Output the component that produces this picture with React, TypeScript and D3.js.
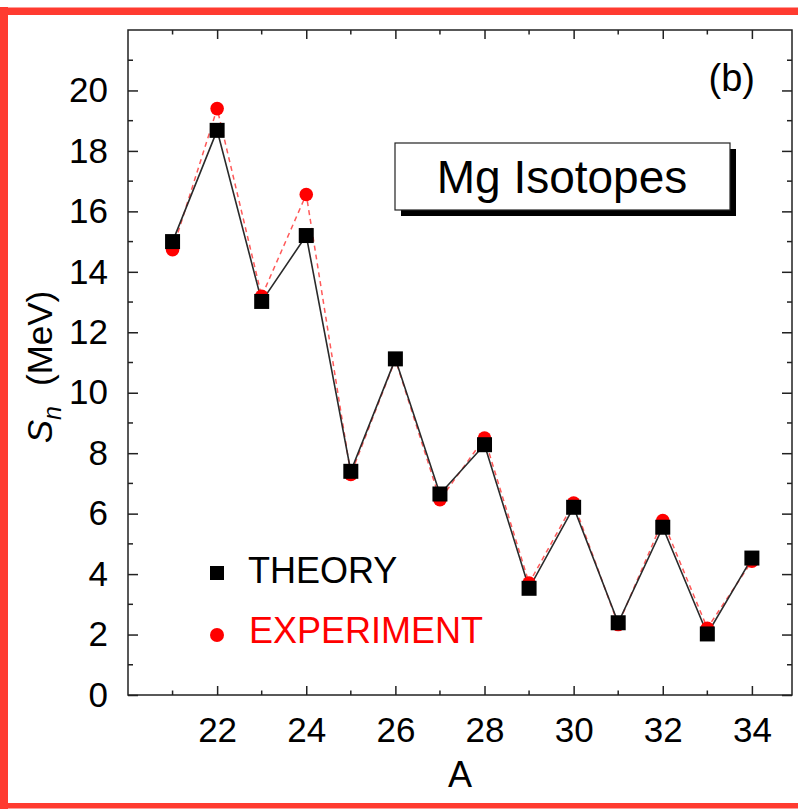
import React, { useEffect, useRef } from 'react'
import * as d3 from 'd3'

// mass numbers of the Mg isotopes
const massNumbers = [21, 22, 23, 24, 25, 26, 27, 28, 29, 30, 31, 32, 33, 34]
// neutron separation energies, MeV
const theorySn = [15.0, 18.68, 13.02, 15.2, 7.4, 11.12, 6.65, 8.28, 3.53, 6.21, 2.39, 5.55, 2.02, 4.53]
const experimentSn = [14.73, 19.4, 13.19, 16.56, 7.3, 11.1, 6.46, 8.5, 3.7, 6.35, 2.33, 5.77, 2.21, 4.43]

const xMajorTicks = [22, 24, 26, 28, 30, 32, 34]
const xMinorTicks = [21, 23, 25, 27, 29, 31, 33]
const yMajorTicks = [0, 2, 4, 6, 8, 10, 12, 14, 16, 18, 20]
const yMinorTicks = [1, 3, 5, 7, 9, 11, 13, 15, 17, 19, 21]

const FONT = '"Liberation Sans", Arial, Helvetica, sans-serif'

const App = () => {
  const svgRef = useRef<SVGSVGElement>(null)
  const width = 798
  const height = 809

  useEffect(() => {
    const svg = d3.select(svgRef.current)
    svg.selectAll('*').remove()

    const left = 128, right = 792, top = 30, bottom = 695

    const x = d3.scaleLinear().domain([20, 34.9]).range([left, right])
    const y = d3.scaleLinear().domain([0, 22]).range([bottom, top])

    svg.append('rect').attr('width', width).attr('height', height).attr('fill', '#fff')

    // red frame (right side is cut off)
    const red = '#ff3b30'
    svg.append('line').attr('x1', 4).attr('x2', 4).attr('y1', 7).attr('y2', 809)
      .attr('stroke', red).attr('stroke-width', 8)
    svg.append('line').attr('x1', 0).attr('x2', width).attr('y1', 11.3).attr('y2', 11.3)
      .attr('stroke', red).attr('stroke-width', 7.5)
    svg.append('line').attr('x1', 0).attr('x2', width).attr('y1', 805.7).attr('y2', 805.7)
      .attr('stroke', red).attr('stroke-width', 5.5)

    const axisColor = '#222'

    // bottom axis with labels
    const gx = svg.append('g').attr('transform', `translate(0,${bottom})`)
      .call(d3.axisBottom(x).tickValues(xMajorTicks).tickSize(-9).tickSizeOuter(0).tickPadding(22)
        .tickFormat(d3.format('d')))
    gx.select('.domain').remove()
    gx.selectAll('text').attr('font-size', 35).attr('font-family', FONT).attr('fill', '#000')

    // left axis with labels
    const gy = svg.append('g').attr('transform', `translate(${left},0)`)
      .call(d3.axisLeft(y).tickValues(yMajorTicks).tickSize(-10).tickSizeOuter(0).tickPadding(20)
        .tickFormat(d3.format('d')))
    gy.select('.domain').remove()
    gy.selectAll('text').attr('font-size', 35).attr('font-family', FONT).attr('fill', '#000')

    // top and right axes, ticks only
    const gt = svg.append('g').attr('transform', `translate(0,${top})`)
      .call(d3.axisTop(x).tickValues(xMajorTicks).tickSize(-9).tickSizeOuter(0).tickFormat(() => ''))
    gt.select('.domain').remove()
    const gr = svg.append('g').attr('transform', `translate(${right},0)`)
      .call(d3.axisRight(y).tickValues(yMajorTicks).tickSize(-10).tickSizeOuter(0).tickFormat(() => ''))
    gr.select('.domain').remove()

    svg.selectAll('.tick line').attr('stroke', axisColor).attr('stroke-width', 1.5)

    // minor ticks
    const minor = svg.append('g').attr('stroke', axisColor).attr('stroke-width', 1.5)
    minor.selectAll('.mxb').data(xMinorTicks).enter().append('line')
      .attr('x1', d => x(d)).attr('x2', d => x(d)).attr('y1', bottom).attr('y2', bottom - 4.5)
    minor.selectAll('.mxt').data(xMinorTicks).enter().append('line')
      .attr('x1', d => x(d)).attr('x2', d => x(d)).attr('y1', top).attr('y2', top + 4.5)
    minor.selectAll('.myl').data(yMinorTicks).enter().append('line')
      .attr('y1', d => y(d)).attr('y2', d => y(d)).attr('x1', left).attr('x2', left + 5)
    minor.selectAll('.myr').data(yMinorTicks).enter().append('line')
      .attr('y1', d => y(d)).attr('y2', d => y(d)).attr('x1', right).attr('x2', right - 5)

    // frame
    svg.append('rect').attr('x', left).attr('y', top)
      .attr('width', right - left).attr('height', bottom - top)
      .attr('fill', 'none').attr('stroke', axisColor).attr('stroke-width', 1.5)

    // axis titles
    svg.append('text').attr('x', (left + right) / 2).attr('y', 787)
      .attr('text-anchor', 'middle').attr('font-size', 36).attr('font-family', FONT)
      .text('A')

    const yt = svg.append('text')
      .attr('transform', `translate(52,367) rotate(-90)`)
      .attr('text-anchor', 'middle').attr('font-size', 35).attr('font-family', FONT)
    yt.append('tspan').attr('font-style', 'italic').text('S')
    yt.append('tspan').attr('font-style', 'italic').attr('font-size', 25).attr('dy', 9).text('n')
    yt.append('tspan').attr('dy', -9).attr('dx', 20).text('(MeV)')

    const expData = massNumbers.map((a, i) => ({ a, v: experimentSn[i] }))
    const thData = massNumbers.map((a, i) => ({ a, v: theorySn[i] }))

    const line = d3.line<{ a: number, v: number }>()
      .x(d => x(d.a))
      .y(d => y(d.v))

    svg.append('path').datum(expData)
      .attr('fill', 'none').attr('stroke', '#ff5a5a').attr('stroke-width', 1.5)
      .attr('stroke-dasharray', '5,4').attr('d', line)

    svg.append('path').datum(thData)
      .attr('fill', 'none').attr('stroke', '#2a2a2a').attr('stroke-width', 1.6).attr('d', line)

    svg.selectAll('.exp').data(expData).enter().append('circle')
      .attr('cx', d => x(d.a)).attr('cy', d => y(d.v)).attr('r', 6.8).attr('fill', '#ff0000')

    const sq = 15
    svg.selectAll('.th').data(thData).enter().append('rect')
      .attr('x', d => x(d.a) - sq / 2).attr('y', d => y(d.v) - sq / 2)
      .attr('width', sq).attr('height', sq).attr('fill', '#000')

    // title box with shadow
    svg.append('rect').attr('x', 401).attr('y', 149).attr('width', 335).attr('height', 67).attr('fill', '#000')
    svg.append('rect').attr('x', 395).attr('y', 143).attr('width', 335).attr('height', 67)
      .attr('fill', '#fff').attr('stroke', '#222').attr('stroke-width', 1.2)
    svg.append('text').attr('x', 562).attr('y', 193).attr('text-anchor', 'middle')
      .attr('font-size', 46).attr('font-family', FONT).text('Mg Isotopes')

    svg.append('text').attr('x', 755).attr('y', 91).attr('text-anchor', 'end')
      .attr('font-size', 38).attr('font-family', FONT).text('(b)')

    // legend
    svg.append('rect').attr('x', 210).attr('y', 566).attr('width', 14).attr('height', 14).attr('fill', '#000')
    svg.append('text').attr('x', 248).attr('y', 583).attr('font-size', 36).attr('font-family', FONT)
      .attr('fill', '#000').text('THEORY')
    svg.append('circle').attr('cx', 217).attr('cy', 635).attr('r', 7).attr('fill', '#ff0000')
    svg.append('text').attr('x', 249).attr('y', 643).attr('font-size', 36).attr('font-family', FONT)
      .attr('fill', '#ff0000').text('EXPERIMENT')
  }, [])

  return (
    <svg ref={svgRef} width={width} height={height}
      style={{ position: 'absolute', left: 0, top: 0, display: 'block' }} />
  )
}

export default App
